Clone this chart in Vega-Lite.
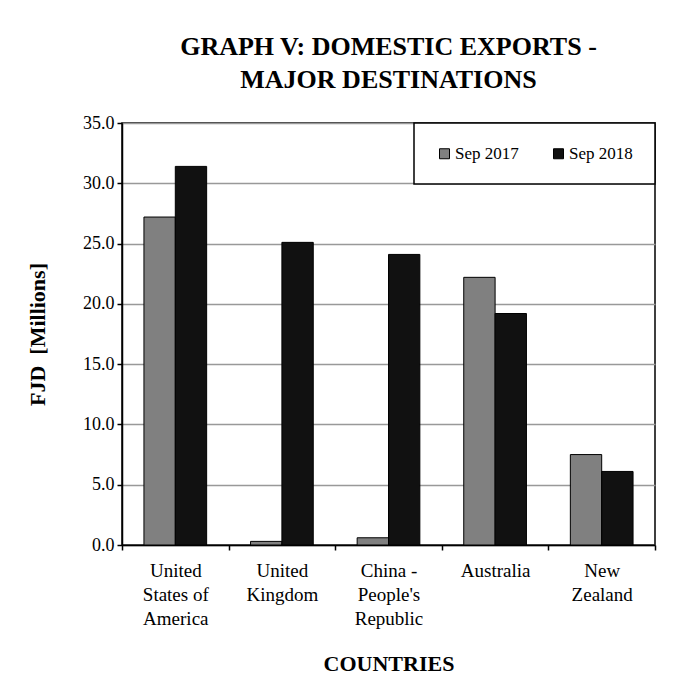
{
  "$schema": "https://vega.github.io/schema/vega-lite/v6.json",
  "width": 533,
  "height": 422,
  "autosize": {"type": "none"},
  "padding": {"left": 122, "top": 123, "right": 33, "bottom": 134},
  "background": "white",
  "title": {
    "text": ["GRAPH V: DOMESTIC EXPORTS -", "MAJOR DESTINATIONS"],
    "font": "Liberation Serif",
    "fontSize": 26,
    "fontWeight": "bold",
    "color": "black",
    "anchor": "middle",
    "lineHeight": 33,
    "offset": 21
  },
  "data": {
    "values": [
      {"country": "United States of America", "period": "Sep 2017", "value": 27.2},
      {"country": "United States of America", "period": "Sep 2018", "value": 31.4},
      {"country": "United Kingdom", "period": "Sep 2017", "value": 0.3},
      {"country": "United Kingdom", "period": "Sep 2018", "value": 25.1},
      {"country": "China - People's Republic", "period": "Sep 2017", "value": 0.6},
      {"country": "China - People's Republic", "period": "Sep 2018", "value": 24.1},
      {"country": "Australia", "period": "Sep 2017", "value": 22.2},
      {"country": "Australia", "period": "Sep 2018", "value": 19.2},
      {"country": "New Zealand", "period": "Sep 2017", "value": 7.5},
      {"country": "New Zealand", "period": "Sep 2018", "value": 6.1}
    ]
  },
  "mark": {"type": "bar", "stroke": "black", "strokeWidth": 1},
  "encoding": {
    "x": {
      "field": "country",
      "type": "nominal",
      "sort": null,
      "scale": {"paddingInner": 0, "paddingOuter": 0},
      "axis": {
        "title": "COUNTRIES",
        "titleFont": "Liberation Serif",
        "titleFontSize": 22,
        "titleFontWeight": "bold",
        "titleColor": "black",
        "titlePadding": 25,
        "labelAngle": 0,
        "labelFont": "Liberation Serif",
        "labelFontSize": 19,
        "labelColor": "black",
        "labelLineHeight": 24,
        "labelPadding": 11,
        "labelExpr": "datum.value == 'United States of America' ? ['United', 'States of', 'America'] : datum.value == 'United Kingdom' ? ['United', 'Kingdom'] : datum.value == \"China - People's Republic\" ? ['China -', \"People's\", 'Republic'] : datum.value == 'New Zealand' ? ['New', 'Zealand'] : datum.value",
        "tickBand": "extent",
        "tickColor": "black",
        "tickWidth": 1.5,
        "tickSize": 5,
        "domainColor": "black",
        "domainWidth": 1.5,
        "grid": false
      }
    },
    "xOffset": {
      "field": "period",
      "type": "nominal",
      "scale": {"paddingInner": 0, "paddingOuter": 0.7}
    },
    "y": {
      "field": "value",
      "type": "quantitative",
      "scale": {"domain": [0, 35], "nice": false},
      "axis": {
        "title": "FJD \u00a0[Millions]",
        "titleFont": "Liberation Serif",
        "titleFontSize": 22,
        "titleFontWeight": "bold",
        "titleColor": "black",
        "titlePadding": 33,
        "values": [0, 5, 10, 15, 20, 25, 30, 35],
        "format": ".1f",
        "labelFont": "Liberation Serif",
        "labelFontSize": 18,
        "labelColor": "black",
        "labelPadding": 3,
        "tickColor": "black",
        "tickWidth": 1.5,
        "tickSize": 5,
        "domainColor": "black",
        "domainWidth": 1.5,
        "grid": true,
        "gridColor": "#999999",
        "gridWidth": 1.5
      }
    },
    "color": {
      "field": "period",
      "type": "nominal",
      "scale": {"range": ["#808080", "#111111"]},
      "legend": {
        "title": null,
        "orient": "top-right",
        "offset": 0,
        "direction": "horizontal",
        "strokeColor": "black",
        "fillColor": "white",
        "padding": 22,
        "columnPadding": 31,
        "symbolType": "square",
        "symbolSize": 100,
        "symbolStrokeColor": "black",
        "symbolStrokeWidth": 1,
        "symbolOpacity": 1,
        "labelFont": "Liberation Serif",
        "labelFontSize": 17,
        "labelColor": "black",
        "labelOffset": 2
      }
    }
  },
  "config": {
    "view": {"stroke": "black", "strokeWidth": 1.5},
    "legend": {"strokeWidth": 1.5}
  }
}
